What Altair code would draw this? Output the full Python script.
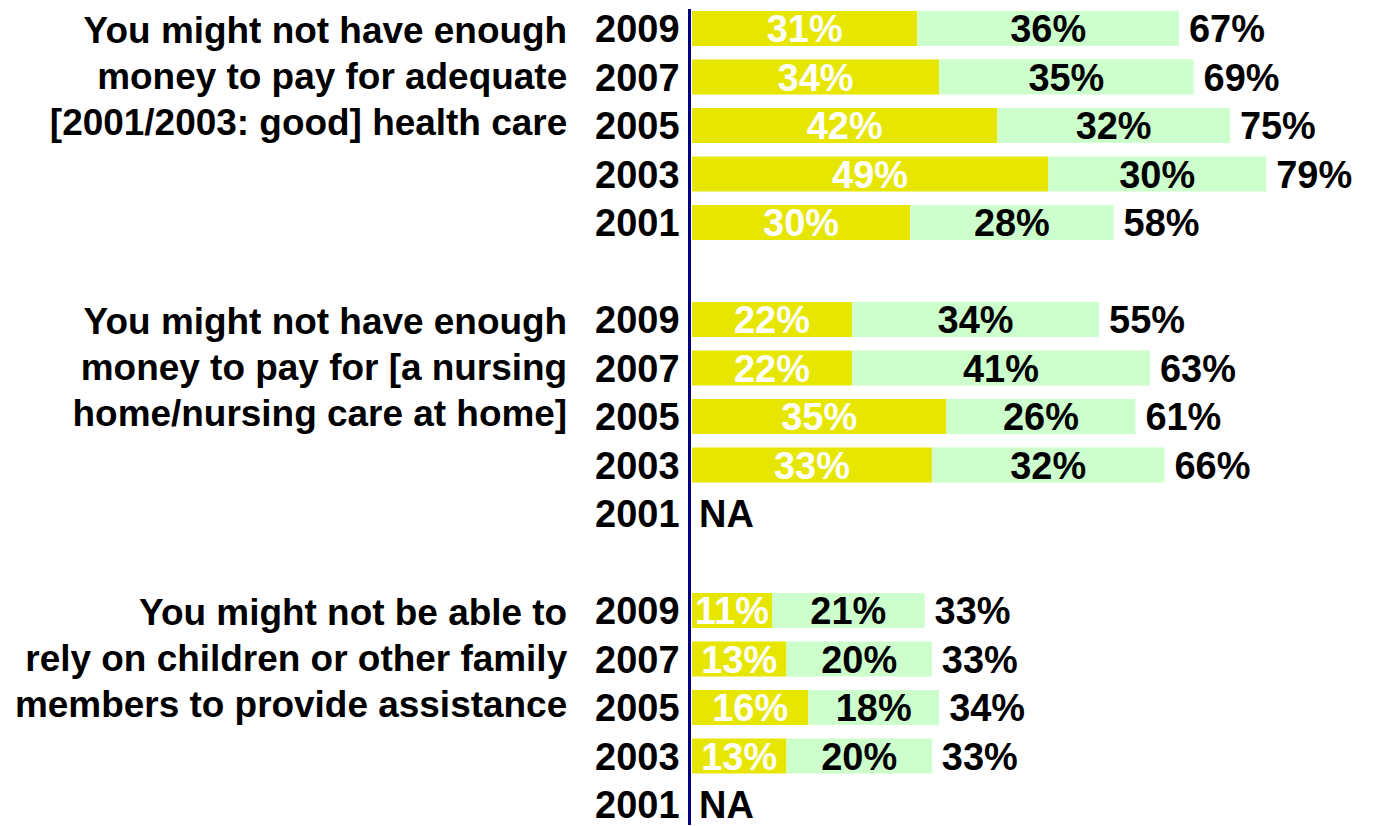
import altair as alt
import pandas as pd

groups = [
    "You might not have enough\nmoney to pay for adequate\n[2001/2003: good] health care",
    "You might not have enough\nmoney to pay for [a nursing\nhome/nursing care at home]",
    "You might not be able to\nrely on children or other family\nmembers to provide assistance",
]
years = ["2009", "2007", "2005", "2003", "2001"]
seg1 = [[31, 34, 42, 49, 30], [22, 22, 35, 33, None], [11, 13, 16, 13, None]]
seg2 = [[36, 35, 32, 30, 28], [34, 41, 26, 32, None], [21, 20, 18, 20, None]]
totals = [[67, 69, 75, 79, 58], [55, 63, 61, 66, None], [33, 33, 34, 33, None]]

YELLOW = "#E6E600"
GREEN = "#CCFFCC"
NAVY = "#000080"
FONT = "Liberation Sans"
FS = 38
GFS = 37

row_order = []
for g in range(len(groups)):
    for y in years:
        row_order.append(f"{g}-{y}")
    if g < len(groups) - 1:
        row_order.append(f"gap{g}")

bars, seglabels, tots, nas, glabels = [], [], [], [], []
for g in range(len(groups)):
    for i, y in enumerate(years):
        rid = f"{g}-{y}"
        a, b, t = seg1[g][i], seg2[g][i], totals[g][i]
        if a is None:
            nas.append({"row": rid, "txt": "NA"})
            continue
        bars.append({"row": rid, "seg": "a", "start": 0, "end": a})
        bars.append({"row": rid, "seg": "b", "start": a, "end": a + b})
        seglabels.append({"row": rid, "mid": a / 2, "txt": f"{a}%", "tc": "white"})
        seglabels.append({"row": rid, "mid": a + b / 2, "txt": f"{b}%", "tc": "black"})
        tots.append({"row": rid, "x": a + b, "txt": f"{t}%"})
    glabels.append({"row": f"{g}-2009", "txt": groups[g]})

W = 680
H = 817
xscale = alt.Scale(domain=[0, (W - 3) / 7.28], range=[3, W], nice=False, zero=False)
yscale = alt.Scale(domain=row_order, paddingInner=0.28, paddingOuter=0.05)

yaxis = alt.Axis(
    title=None,
    ticks=False,
    grid=False,
    domain=True,
    domainColor=NAVY,
    domainWidth=3,
    labelFont=FONT,
    labelFontSize=FS,
    labelFontWeight="bold",
    labelColor="black",
    labelPadding=10,
    labelOffset=3,
    labelExpr="indexof(datum.value, 'gap') >= 0 ? '' : split(datum.value, '-')[1]",
)

base_y = alt.Y("row:N", scale=yscale, axis=yaxis, sort=row_order)

bar_layer = alt.Chart(pd.DataFrame(bars)).mark_bar().encode(
    x=alt.X("start:Q", scale=xscale, axis=None),
    x2="end:Q",
    y=base_y,
    color=alt.Color("seg:N", scale=alt.Scale(domain=["a", "b"], range=[YELLOW, GREEN]), legend=None),
)

seg_layer = alt.Chart(pd.DataFrame(seglabels)).mark_text(
    font=FONT, fontSize=FS, fontWeight="bold", baseline="middle", align="center", dy=3
).encode(
    x=alt.X("mid:Q", scale=xscale, axis=None),
    y=alt.Y("row:N", scale=yscale, axis=yaxis, sort=row_order),
    text="txt:N",
    color=alt.Color("tc:N", scale=None),
)

tot_layer = alt.Chart(pd.DataFrame(tots)).mark_text(
    font=FONT, fontSize=FS, fontWeight="bold", baseline="middle", align="left", dx=10, dy=3, color="black"
).encode(
    x=alt.X("x:Q", scale=xscale, axis=None),
    y=alt.Y("row:N", scale=yscale, axis=yaxis, sort=row_order),
    text="txt:N",
)

na_layer = alt.Chart(pd.DataFrame(nas)).mark_text(
    font=FONT, fontSize=FS, fontWeight="bold", baseline="middle", align="left", dy=3, color="black"
).encode(
    x=alt.value(10),
    y=alt.Y("row:N", scale=yscale, axis=yaxis, sort=row_order),
    text="txt:N",
)

glabel_layer = alt.Chart(pd.DataFrame(glabels)).mark_text(
    font=FONT, fontSize=GFS, fontWeight="bold", baseline="middle", align="right",
    lineBreak="\n", lineHeight=46, dy=4, color="black"
).encode(
    x=alt.value(-122),
    y=alt.Y("row:N", scale=yscale, axis=yaxis, sort=row_order),
    text="txt:N",
)

chart = alt.layer(bar_layer, seg_layer, tot_layer, na_layer, glabel_layer).properties(
    width=W,
    height=H,
    autosize=alt.AutoSizeParams(type="none"),
    padding={"left": 682, "top": 0, "right": 0, "bottom": 0},
    background="white",
).configure_view(stroke=None)

chart.save("out.html", embed_options={"renderer": "svg", "actions": False})
